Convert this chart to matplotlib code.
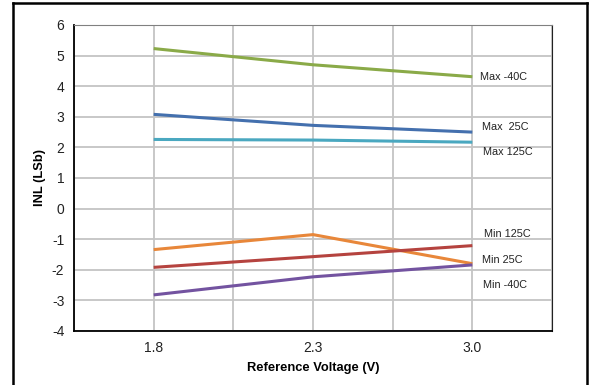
import numpy as np
import matplotlib.pyplot as plt
from matplotlib.lines import Line2D

plt.rcParams['font.family'] = ['Liberation Sans', 'DejaVu Sans']
plt.rcParams['axes.unicode_minus'] = False

voltages = ['1.8', '2.3', '3.0']

max_m40 = [5.23, 4.70, 4.31]
max_25 = [3.08, 2.72, 2.50]
max_125 = [2.26, 2.24, 2.17]
min_125 = [-1.34, -0.85, -1.80]
min_25 = [-1.92, -1.57, -1.21]
min_m40 = [-2.82, -2.23, -1.84]

series = [
    ('Max -40C', max_m40, '#8aaa48', (480, 77)),
    ('Max  25C', max_25, '#4470ae', (482, 127)),
    ('Max 125C', max_125, '#4aa8c0', (483, 152)),
    ('Min 125C', min_125, '#e8873a', (484, 234)),
    ('Min 25C', min_25, '#b5433f', (482, 260)),
    ('Min -40C', min_m40, '#7353a0', (483, 285)),
]

W, H = 589, 385
fig = plt.figure(figsize=(W / 100, H / 100), dpi=100)
ax = fig.add_axes([74 / W, 1 - 331 / H, (552 - 74) / W, (331 - 25) / H])

x = np.arange(len(voltages))
for name, vals, color, (tx, ty) in series:
    ax.plot(x, vals, color=color, lw=2.2, solid_capstyle='butt', zorder=3)
    fig.text(tx / W, 1 - ty / H, name, fontsize=7.8, color='#222222',
             ha='left', va='center')

ax.set_xlim(-0.5, 2.5)
ax.set_ylim(-4, 6)
ax.set_xticks(x)
ax.set_xticklabels(voltages)
ax.set_xticks([-0.5, 0.5, 1.5, 2.5], minor=True)
ax.set_yticks(range(-4, 7))
ax.tick_params(which='both', length=0, labelsize=10, colors='#222222', pad=7)
ax.tick_params(axis='x', which='minor', labelbottom=False)
ax.grid(True, which='both', color='#c4c4c4', lw=1.3)
ax.set_axisbelow(True)

for s in ['left', 'bottom']:
    ax.spines[s].set_color('black')
    ax.spines[s].set_linewidth(1.3)
ax.spines['right'].set_color('#222222')
ax.spines['top'].set_color('#808080')

ax.set_ylabel('INL (LSb)', fontsize=9.3, fontweight='bold', labelpad=4)
ax.set_xlabel('Reference Voltage (V)', fontsize=9.3, fontweight='bold', labelpad=5)

# outer frame (open at the bottom)
for xs, ys in [([13, 13], [3, H]), ([13, 587], [3, 3]), ([587, 587], [3, H])]:
    fig.add_artist(Line2D([v / W for v in xs], [1 - v / H for v in ys],
                          color='black', lw=1.8))

fig.savefig('out.png', dpi=100)
